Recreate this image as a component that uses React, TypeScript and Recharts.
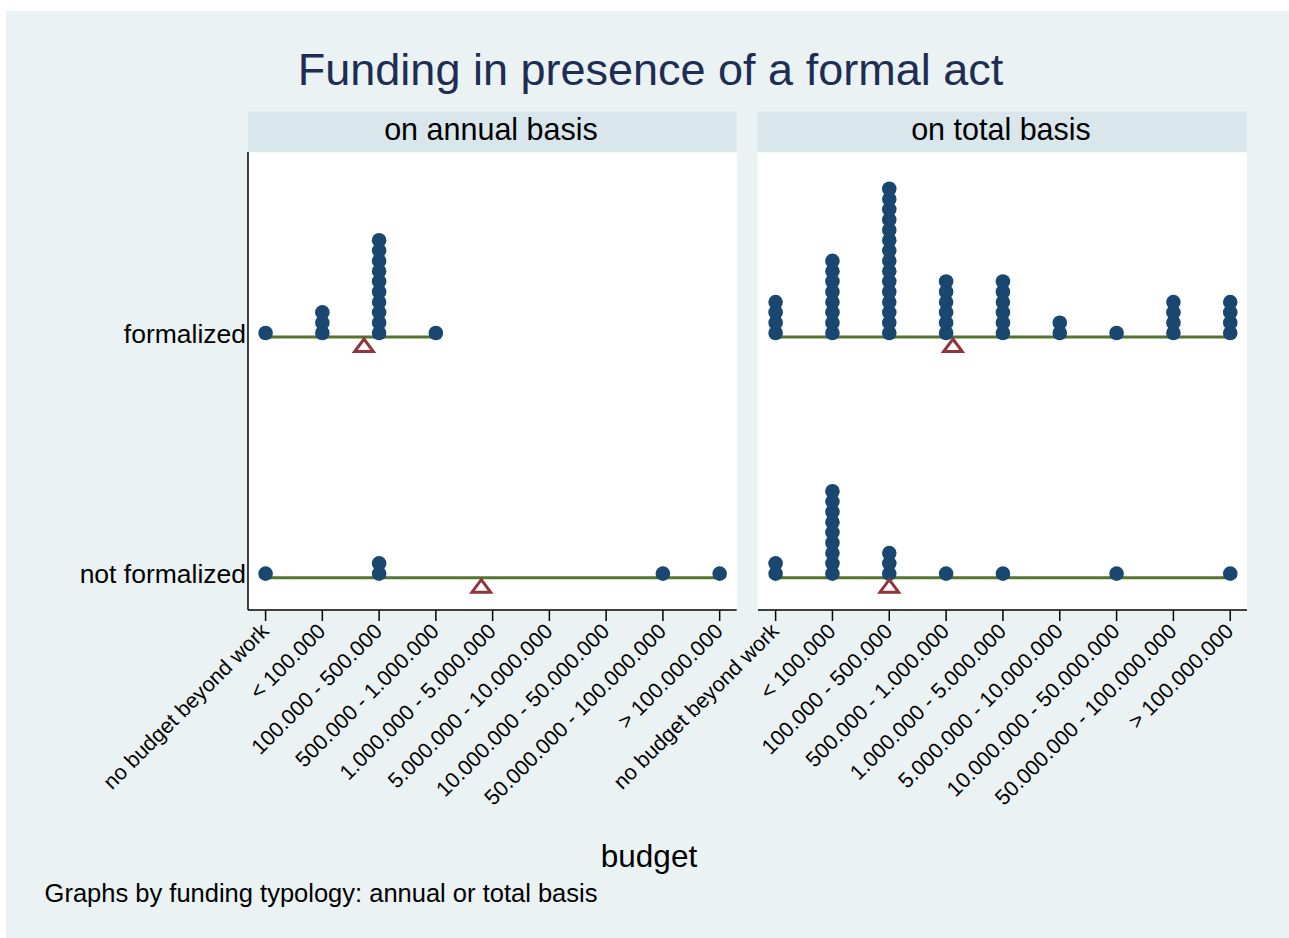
import React from 'react';
import { ScatterChart, Scatter, XAxis, YAxis, ReferenceLine } from 'recharts';

// ---------- data ----------
const budgetLabels = [
  'no budget beyond work',
  '< 100.000',
  '100.000 - 500.000',
  '500.000 - 1.000.000',
  '1.000.000 - 5.000.000',
  '5.000.000 - 10.000.000',
  '10.000.000 - 50.000.000',
  '50.000.000 - 100.000.000',
  '> 100.000.000',
];
const budgetTicks = [0, 1, 2, 3, 4, 5, 6, 7, 8];
const rowLabels = ['not formalized', 'formalized'];
const rowTicks = [0, 1];
const panelTitles = ['on annual basis', 'on total basis'];

// number of observations per budget category
const annualFormalized = [1, 3, 10, 1, 0, 0, 0, 0, 0];
const annualNotFormalized = [1, 0, 2, 0, 0, 0, 0, 1, 1];
const totalFormalized = [4, 8, 15, 6, 6, 2, 1, 4, 4];
const totalNotFormalized = [2, 9, 3, 1, 1, 0, 1, 0, 1];

const chartTitle = 'Funding in presence of a formal act';
const xTitle = 'budget';
const note = 'Graphs by funding typology: annual or total basis';

// ---------- style ----------
const FONT = '"Liberation Sans", Arial, Helvetica, sans-serif';
const DOT = '#1A476F';
const LINE = '#55752F';
const MEAN = '#90353B';
const STACK_STEP = 0.0428; // vertical spacing of stacked dots, in y units
const X_DOMAIN: [number, number] = [-0.31, 8.3];
const Y_DOMAIN: [number, number] = [-0.151, 1.752];

type Pt = { x: number; y: number };

function stackDots(counts: number[], row: number): Pt[] {
  const pts: Pt[] = [];
  counts.forEach((n, i) => {
    for (let k = 0; k < n; k++) pts.push({ x: i, y: row + k * STACK_STEP });
  });
  return pts;
}
function meanOf(counts: number[]): number {
  let s = 0;
  let n = 0;
  counts.forEach((c, i) => {
    s += c * i;
    n += c;
  });
  return s / n;
}
function rangeOf(counts: number[]): [number, number] {
  let lo = -1;
  let hi = -1;
  counts.forEach((c, i) => {
    if (c > 0) {
      if (lo < 0) lo = i;
      hi = i;
    }
  });
  return [lo, hi];
}

const XTick = (props: any) => {
  const { x, y, payload } = props;
  const ax = x - 1;
  const ay = y + 4;
  return (
    <text
      x={ax}
      y={ay}
      transform={`rotate(-45 ${ax} ${ay})`}
      textAnchor="end"
      dy="0.36em"
      fontSize={21.5}
      fontFamily={FONT}
      fill="#000"
    >
      {budgetLabels[payload.value]}
    </text>
  );
};

const YTick = (props: any) => {
  const { x, y, payload } = props;
  return (
    <text x={x} y={y} textAnchor="end" dy="0.36em" fontSize={26.5} fontFamily={FONT} fill="#000">
      {rowLabels[payload.value]}
    </text>
  );
};

const dotShape = (p: any) => <circle cx={p.cx} cy={p.cy} r={7.3} fill={DOT} />;
const triShape = (p: any) => (
  <path
    d={`M${p.cx},${p.cy + 6} L${p.cx + 9.3},${p.cy + 18.5} L${p.cx - 9.3},${p.cy + 18.5} Z`}
    fill="none"
    stroke={MEAN}
    strokeWidth={3}
  />
);
const rangeLine = (p: any) => (
  <line x1={p.x1} y1={p.y1 + 4} x2={p.x2} y2={p.y2 + 4} stroke={LINE} strokeWidth={3} />
);

const LEFT_ROOM = 200;

function Panel({
  left,
  plotWidth,
  showY,
  formalized,
  notFormalized,
}: {
  left: number;
  plotWidth: number;
  showY: boolean;
  formalized: number[];
  notFormalized: number[];
}) {
  const rows = [
    { counts: notFormalized, row: 0 },
    { counts: formalized, row: 1 },
  ];
  const dots = [...stackDots(notFormalized, 0), ...stackDots(formalized, 1)];
  const means = rows.map((r) => ({ x: meanOf(r.counts), y: r.row }));
  return (
    <div style={{ position: 'absolute', left: left - LEFT_ROOM, top: 152 }}>
      <ScatterChart
        width={plotWidth + LEFT_ROOM}
        height={658}
        margin={{ top: 0, right: 0, bottom: 0, left: showY ? 0 : LEFT_ROOM }}
      >
        <XAxis
          type="number"
          dataKey="x"
          domain={X_DOMAIN}
          ticks={budgetTicks}
          interval={0}
          allowDataOverflow
          height={200}
          tickSize={11}
          tickMargin={2}
          tick={<XTick />}
          axisLine={{ stroke: '#000', strokeWidth: 1.5 }}
          tickLine={{ stroke: '#000', strokeWidth: 1.5 }}
        />
        <YAxis
          type="number"
          dataKey="y"
          domain={Y_DOMAIN}
          ticks={rowTicks}
          allowDataOverflow
          hide={!showY}
          width={showY ? LEFT_ROOM : 0}
          tickSize={0}
          tickMargin={2}
          tickLine={false}
          tick={<YTick />}
          axisLine={{ stroke: '#000', strokeWidth: 1.5 }}
        />
        <Scatter data={dots} shape={dotShape} isAnimationActive={false} />
        {rows.map((r) => {
          const [lo, hi] = rangeOf(r.counts);
          return (
            <ReferenceLine
              key={r.row}
              segment={[
                { x: lo, y: r.row },
                { x: hi, y: r.row },
              ]}
              shape={rangeLine}
            />
          );
        })}
        <Scatter data={means} shape={triShape} isAnimationActive={false} />
      </ScatterChart>
    </div>
  );
}

export default function App() {
  return (
    <div
      style={{
        position: 'absolute',
        left: 0,
        top: 0,
        width: 1289,
        height: 938,
        overflow: 'hidden',
        fontFamily: FONT,
        background: '#fff',
      }}
    >
      <svg width={1289} height={938} style={{ position: 'absolute', left: 0, top: 0 }}>
        <rect x={6} y={11} width={1283} height={927} fill="#EAF2F3" />
        <rect x={248} y={111.7} width={488.7} height={40.6} fill="#D9E6EB" />
        <rect x={757.7} y={111.7} width={489.3} height={40.6} fill="#D9E6EB" />
        <rect x={248} y={152.3} width={488.7} height={458} fill="#fff" />
        <rect x={757.7} y={152.3} width={489.3} height={458} fill="#fff" />
        <text x={650.5} y={85} textAnchor="middle" fontSize={45} fill="#1E2D53" fontFamily={FONT}>
          {chartTitle}
        </text>
        <text x={491} y={139.5} textAnchor="middle" fontSize={30.5} fill="#000" fontFamily={FONT}>
          {panelTitles[0]}
        </text>
        <text x={1001} y={139.5} textAnchor="middle" fontSize={30.5} fill="#000" fontFamily={FONT}>
          {panelTitles[1]}
        </text>
        <text x={649} y={867} textAnchor="middle" fontSize={31.5} fill="#000" fontFamily={FONT}>
          {xTitle}
        </text>
        <text x={44.6} y={902} fontSize={25.5} fill="#000" fontFamily={FONT}>
          {note}
        </text>
      </svg>
      <Panel
        left={248}
        plotWidth={488.7}
        showY
        formalized={annualFormalized}
        notFormalized={annualNotFormalized}
      />
      <Panel
        left={757.7}
        plotWidth={489.3}
        showY={false}
        formalized={totalFormalized}
        notFormalized={totalNotFormalized}
      />
    </div>
  );
}
